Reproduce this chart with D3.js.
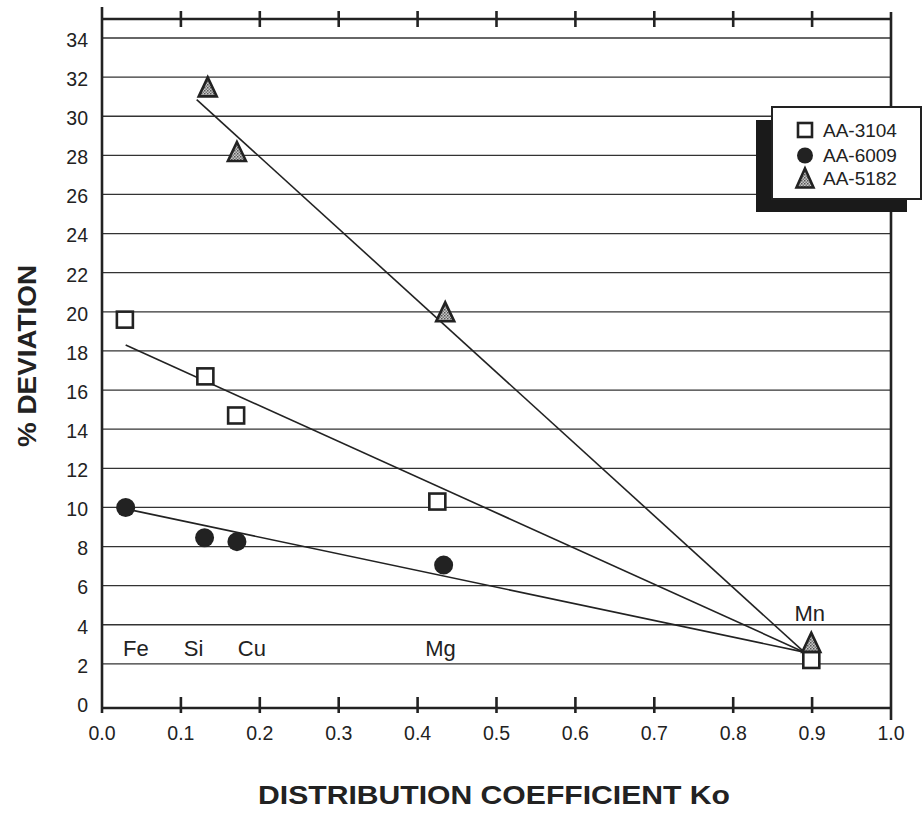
<!DOCTYPE html>
<html>
<head>
<meta charset="utf-8">
<script src="https://cdn.jsdelivr.net/npm/d3@7"></script>
<style>
  body { margin: 0; background: #fff; }
  svg text { font-family: "Liberation Sans", Arial, Helvetica, sans-serif; fill: #222; }
</style>
</head>
<body>
<div id="chart"></div>
<script>
// datos
const alloys = ["AA-3104", "AA-6009", "AA-5182"];
const ko3104 = [0.029, 0.131, 0.170, 0.425, 0.899];
const dev3104 = [19.6, 16.7, 14.7, 10.3, 2.2];
const ko6009 = [0.030, 0.130, 0.171, 0.433];
const dev6009 = [10.0, 8.45, 8.25, 7.05];
const ko5182 = [0.134, 0.171, 0.435, 0.899];
const dev5182 = [31.5, 28.2, 20.0, 3.1];

// rectas de ajuste [ko, desviacion] extremos
const fit3104 = [[0.030, 18.3], [0.89, 2.6]];
const fit6009 = [[0.033, 9.9], [0.89, 2.6]];
const fit5182 = [[0.120, 30.85], [0.89, 2.6]];

const elements = ["Fe", "Si", "Cu", "Mg", "Mn"];
const elementKo = [0.043, 0.116, 0.19, 0.429, 0.897];
const elementDev = [2.8, 2.8, 2.8, 2.8, 4.6];

const xTicks = [0, 0.1, 0.2, 0.3, 0.4, 0.5, 0.6, 0.7, 0.8, 0.9, 1.0];
const yTicks = d3.range(0, 35, 2);

const W = 924, H = 813;
const pLeft = 102, pRight = 891, pTop = 19, pBottom = 708;

const svg = d3.select("#chart").append("svg")
    .attr("width", W).attr("height", H);

// patron punteado de los triangulos
const pat = svg.append("defs").append("pattern")
    .attr("id", "stipple").attr("width", 3).attr("height", 3)
    .attr("patternUnits", "userSpaceOnUse");
pat.append("rect").attr("width", 3).attr("height", 3).attr("fill", "#c8c8c8");
pat.append("rect").attr("width", 1.5).attr("height", 1.5).attr("fill", "#555");
pat.append("rect").attr("x", 1.5).attr("y", 1.5).attr("width", 1.5).attr("height", 1.5).attr("fill", "#777");

const x = d3.scaleLinear().domain([0, 1]).range([pLeft, pRight]);
const y = d3.scaleLinear().domain([0, 34]).range([703, 38]);

// lineas de la grilla
svg.append("g").selectAll("line")
    .data(yTicks.filter(d => d > 0))
    .enter().append("line")
    .attr("x1", pLeft).attr("x2", pRight)
    .attr("y1", d => y(d)).attr("y2", d => y(d))
    .attr("stroke", "#333").attr("stroke-width", 1.3);

// marco
const frame = svg.append("g").attr("stroke", "#222").attr("stroke-width", 2.6).attr("fill", "none");
frame.append("line").attr("x1", pLeft).attr("x2", pLeft).attr("y1", 7).attr("y2", 713);
frame.append("line").attr("x1", pRight).attr("x2", pRight).attr("y1", 12).attr("y2", 720);
frame.append("line").attr("x1", pLeft).attr("x2", pRight + 1).attr("y1", pTop).attr("y2", pTop);
frame.append("line").attr("x1", pLeft).attr("x2", pRight).attr("y1", pBottom).attr("y2", pBottom);

// marcas de los ejes
frame.selectAll(".tb").data(xTicks.slice(1, -1)).enter().append("line")
    .attr("x1", d => x(d)).attr("x2", d => x(d))
    .attr("y1", pBottom - 11).attr("y2", pBottom + 5);
frame.selectAll(".tt").data(xTicks.slice(1, -1)).enter().append("line")
    .attr("x1", d => x(d)).attr("x2", d => x(d))
    .attr("y1", pTop - 8).attr("y2", pTop + 8);

// etiquetas de los ejes
svg.append("g").selectAll("text").data(yTicks).enter().append("text")
    .attr("x", 88).attr("y", d => y(d) + 2).attr("dy", "0.35em")
    .attr("text-anchor", "end").attr("font-size", 19.5)
    .text(d => d);

svg.append("g").selectAll("text").data(xTicks).enter().append("text")
    .attr("x", d => x(d)).attr("y", 740)
    .attr("text-anchor", "middle").attr("font-size", 19.5)
    .text(d => d3.format(".1f")(d));

svg.append("text")
    .attr("x", 494).attr("y", 804)
    .attr("text-anchor", "middle").attr("font-size", 25).attr("font-weight", "bold")
    .attr("textLength", 472).attr("lengthAdjust", "spacingAndGlyphs")
    .text("DISTRIBUTION COEFFICIENT Ko");

svg.append("text")
    .attr("transform", "translate(36,356) rotate(-90)")
    .attr("text-anchor", "middle").attr("font-size", 25).attr("font-weight", "bold")
    .attr("textLength", 182).attr("lengthAdjust", "spacingAndGlyphs")
    .text("% DEVIATION");

// rectas de ajuste
const line = d3.line().x(d => x(d[0])).y(d => y(d[1]));
svg.append("g").selectAll("path")
    .data([fit5182, fit3104, fit6009])
    .enter().append("path")
    .attr("d", line)
    .attr("fill", "none").attr("stroke", "#222").attr("stroke-width", 1.6);

// simbolos
function square(g, cx, cy, s) {
    g.append("rect").attr("x", cx - s / 2).attr("y", cy - s / 2)
        .attr("width", s).attr("height", s)
        .attr("fill", "#fff").attr("stroke", "#222").attr("stroke-width", 2.6);
}
function circle(g, cx, cy, r) {
    g.append("circle").attr("cx", cx).attr("cy", cy).attr("r", r).attr("fill", "#222");
}
function triangle(g, cx, cy, w, h) {
    g.append("path")
        .attr("d", `M${cx},${cy - h / 2}L${cx + w / 2},${cy + h / 2}L${cx - w / 2},${cy + h / 2}Z`)
        .attr("fill", "url(#stipple)").attr("stroke", "#222").attr("stroke-width", 2.6)
        .attr("stroke-linejoin", "miter");
}

const marks = svg.append("g");
ko6009.forEach((k, i) => circle(marks, x(k), y(dev6009[i]), 9.5));
ko3104.forEach((k, i) => square(marks, x(k), y(dev3104[i]), 16));
ko5182.forEach((k, i) => triangle(marks, x(k), y(dev5182[i]), 18, 19));

// nombres de los elementos
svg.append("g").selectAll("text").data(elements).enter().append("text")
    .attr("x", (d, i) => x(elementKo[i]))
    .attr("y", (d, i) => y(elementDev[i]))
    .attr("dy", "0.35em")
    .attr("text-anchor", "middle").attr("font-size", 22)
    .text(d => d);

// leyenda
const lg = svg.append("g");
lg.append("rect").attr("x", 756).attr("y", 120).attr("width", 151).attr("height", 92).attr("fill", "#1a1a1a");
lg.append("rect").attr("x", 772).attr("y", 107).attr("width", 149).attr("height", 92)
    .attr("fill", "#fff").attr("stroke", "#222").attr("stroke-width", 2);
const rowY = [130, 155.5, 178];
square(lg, 805, rowY[0], 14);
circle(lg, 805, rowY[1], 8);
triangle(lg, 805, rowY[2], 17, 19);
lg.selectAll("text").data(alloys).enter().append("text")
    .attr("x", 823).attr("y", (d, i) => rowY[i]).attr("dy", "0.36em")
    .attr("font-size", 19)
    .text(d => d);
</script>
</body>
</html>
